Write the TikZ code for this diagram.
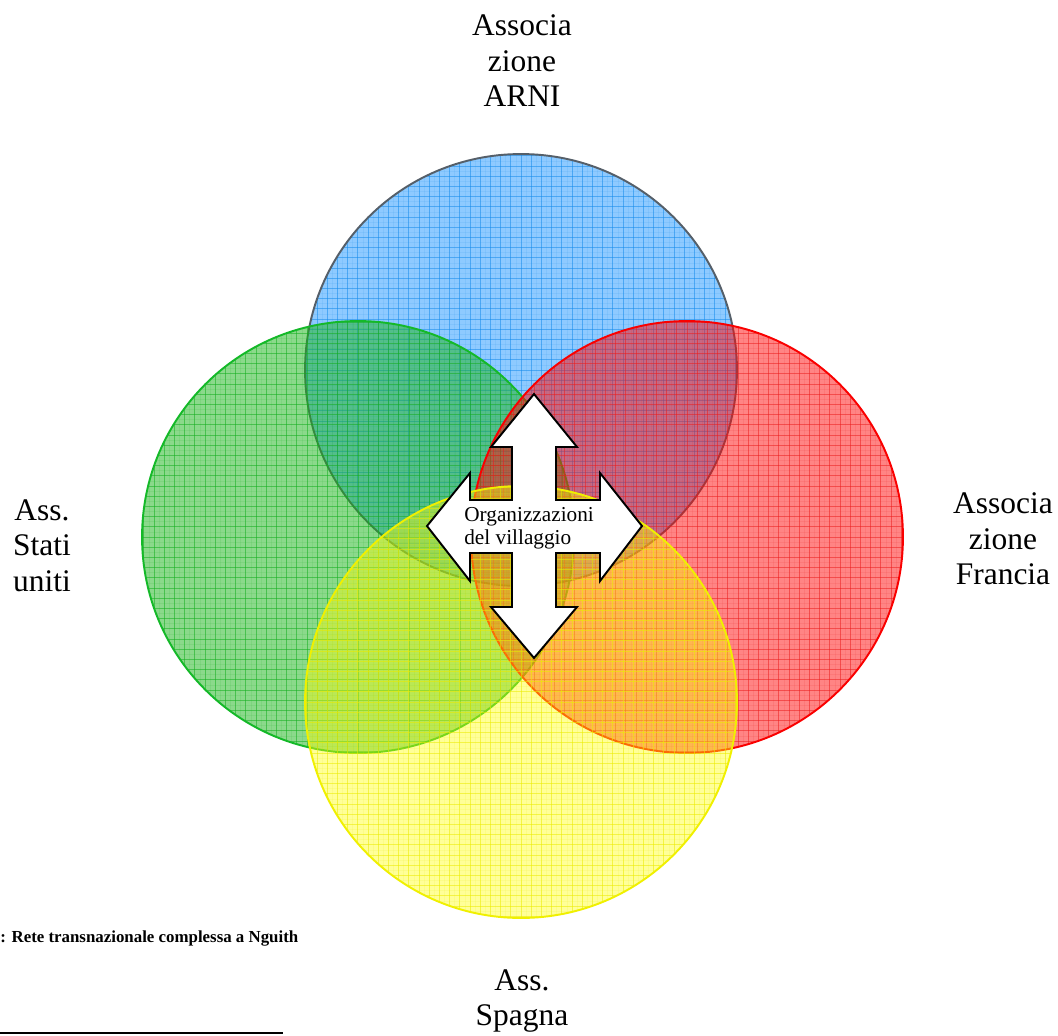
\documentclass[tikz,border=0pt]{standalone}
\usepackage{fontspec}
\setmainfont{Liberation Serif}
\begin{document}
\begin{tikzpicture}[x=0.02cm,y=-0.02cm,
  disc/.style={circle, inner sep=0pt, minimum size=8.64cm, line width=1.1pt,
    fill opacity=0.5,
    path picture={
      \foreach \k in {-22,...,22}{
        \draw[gridline] (\k*10.2,-225) -- (\k*10.2,225);
        \draw[gridline] (-225,\k*10.2) -- (225,\k*10.2);
        \draw[fineline] (\k*10.2+5.1,-225) -- (\k*10.2+5.1,225);
        \draw[fineline] (-225,\k*10.2+5.1) -- (225,\k*10.2+5.1);
      }
    }},
  gridline/.style={line width=0.55pt, draw opacity=0.55},
  fineline/.style={line width=0.3pt, draw opacity=0.1},
  label/.style={align=center, inner sep=0pt, anchor=north,
    font=\fontsize{17.9pt}{20.4pt}\selectfont},
  bigarrow/.style={draw=black, line width=1.1pt, fill=white, line join=miter},
]
\definecolor{arniblue}{RGB}{30,150,255}
\definecolor{arniline}{RGB}{20,140,235}
\definecolor{arniedge}{RGB}{85,95,105}
\definecolor{usgreen}{RGB}{25,180,25}
\definecolor{usline}{RGB}{20,175,30}
\definecolor{usedge}{RGB}{20,185,40}
\definecolor{frred}{RGB}{255,10,10}
\definecolor{frline}{RGB}{235,30,30}
\definecolor{fredge}{RGB}{250,0,0}
\definecolor{esyellow}{RGB}{255,255,10}
\definecolor{esline}{RGB}{235,235,0}
\definecolor{esedge}{RGB}{240,240,0}

\useasboundingbox (0,0) rectangle (1058,1035);
\fill[white] (0,0) rectangle (1058,1035);

% the four overlapping circles
\node[disc, fill=arniblue, draw=arniedge,
  gridline/.append style={draw=arniline}, fineline/.append style={draw=arniline}] (arni) at (521,370) {};
\node[disc, fill=usgreen, draw=usedge,
  gridline/.append style={draw=usline}, fineline/.append style={draw=usline}] (usa) at (358,537) {};
\node[disc, fill=frred, draw=fredge,
  gridline/.append style={draw=frline}, fineline/.append style={draw=frline}] (francia) at (687,537) {};
\node[disc, fill=esyellow, fill opacity=0.42, draw=esedge,
  gridline/.append style={draw=esline}, fineline/.append style={draw=esline}] (spagna) at (521,702) {};

% four-way arrow in the middle
\draw[bigarrow]
  (534,394) -- (577,447) -- (556,447) -- (556,500) -- (600,500) -- (600,473)
  -- (642,526) -- (600,581) -- (600,553) -- (556,553) -- (556,607) -- (577,607)
  -- (534,658) -- (491,607) -- (512,607) -- (512,553) -- (470,553) -- (470,581)
  -- (427,526) -- (470,473) -- (470,500) -- (512,500) -- (512,447) -- (491,447)
  -- cycle;
\node[align=left, inner sep=0pt, anchor=north west,
  font=\fontsize{12.1pt}{13pt}\selectfont] (org) at (464,507.5)
  {Organizzazioni\\del villaggio};

% labels of the partners
\node[label] (arnitxt) at (522,14) {Associa\\zione\\ARNI};
\node[label] (usatxt) at (42,499) {Ass.\\Stati\\uniti};
\node[label] (francetxt) at (1003,492) {Associa\\zione\\Francia};
\node[label] (spaintxt) at (522,969) {Ass.\\Spagna};

% caption and footnote rule
\node[anchor=base west, inner sep=0pt, font=\fontsize{9.6pt}{11pt}\selectfont\bfseries]
  (caption) at (0,942) {: Rete transnazionale complessa a Nguith};
\coordinate (ruleL) at (0,1033);
\coordinate (ruleR) at (283,1033);
\draw[line width=1.1pt] (ruleL) -- (ruleR);
\end{tikzpicture}
\end{document}
